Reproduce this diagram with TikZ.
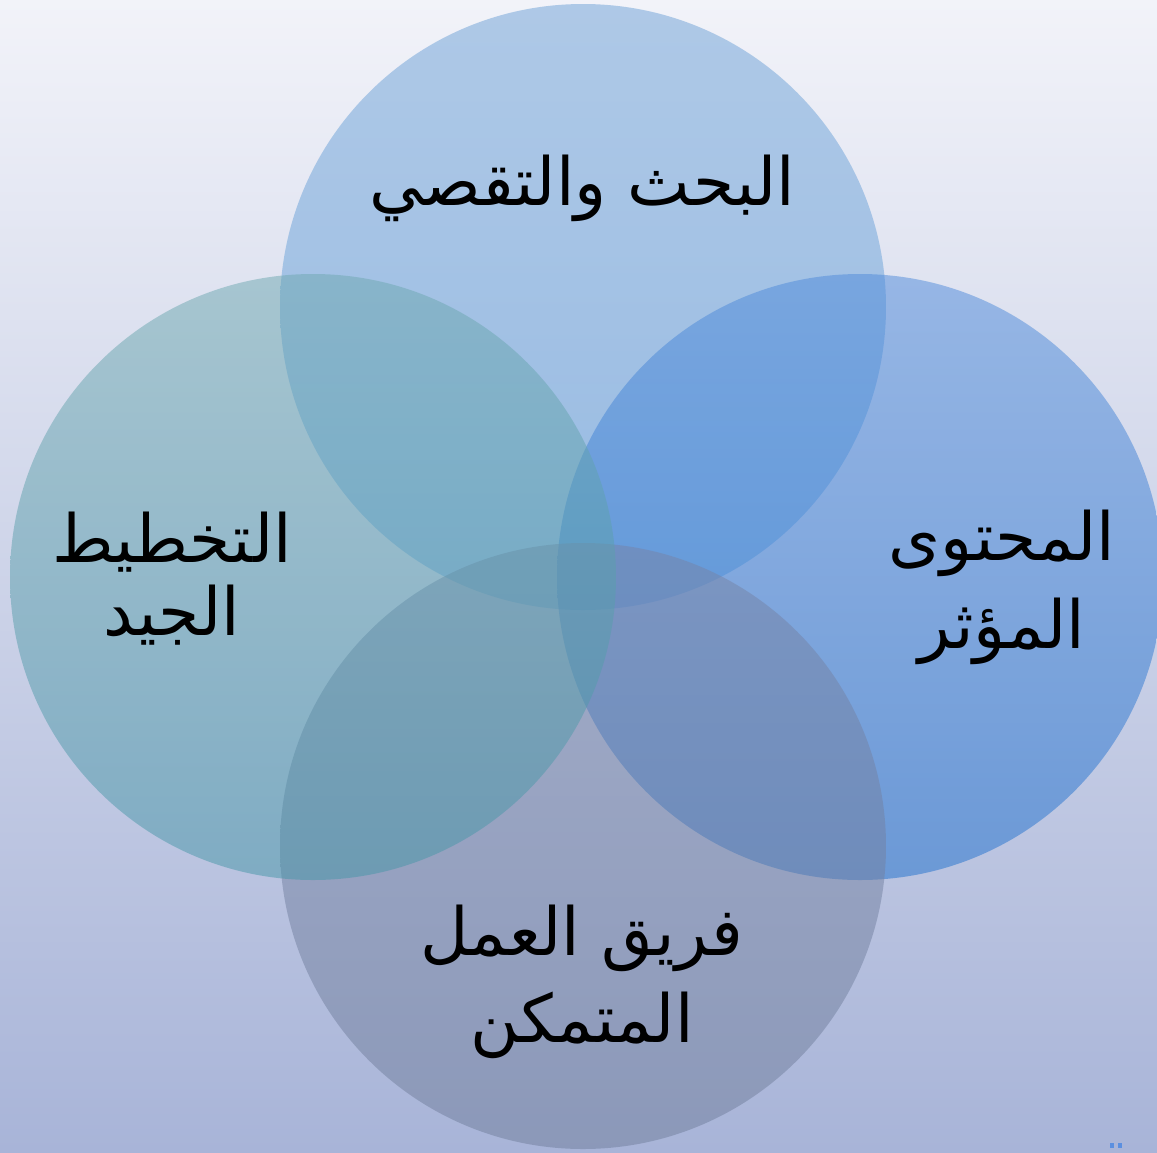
\documentclass[tikz,border=0pt]{standalone}
\usepackage{fontspec}
\TeXXeTstate=1
\newfontfamily\arabicfont[Script=Arabic]{DejaVu Sans}
\definecolor{bgtop}{HTML}{F2F3F9}
\definecolor{bgbot}{HTML}{A8B4D8}
\definecolor{ctop}{RGB}{108,160,214}
\definecolor{ctopB}{RGB}{100,164,222}
\definecolor{cleft}{RGB}{110,168,176}
\definecolor{cleftB}{RGB}{70,150,168}
\definecolor{cright}{RGB}{78,138,218}
\definecolor{crightB}{RGB}{30,112,206}
\definecolor{cbot}{RGB}{118,132,168}
\definecolor{cbotB}{RGB}{112,126,155}
\definecolor{dotblue}{HTML}{5B8FE0}
\begin{document}
\begin{tikzpicture}[x=1pt,y=-1pt,
  venn/.style={circle,minimum size=606pt,inner sep=0pt,draw=none,fill opacity=0.5},
  lbl/.style={anchor=base,inner sep=0pt,font=\arabicfont\fontsize{66.5}{72}\selectfont,text=black}]
\useasboundingbox (0,0) rectangle (1157,1152);
\shade[top color=bgtop,bottom color=bgbot] (0,0) rectangle (1157,1152);
\node[venn,top color=ctop,bottom color=ctopB] (ctop) at (583,307) {};
\node[venn,top color=cright,bottom color=crightB] (cright) at (860,577) {};
\node[venn,top color=cbot,bottom color=cbotB] (cbot) at (583,846) {};
\node[venn,top color=cleft,bottom color=cleftB] (cleft) at (313,577) {};
\node[lbl] (ttop) at (582,205) {\beginR البحث والتقصي\endR};
\node[lbl] (tleftA) at (172,562) {\beginR التخطيط\endR};
\node[lbl] (tleftB) at (172,635) {\beginR الجيد\endR};
\node[lbl] (trightA) at (1002,560) {\beginR المحتوى\endR};
\node[lbl] (trightB) at (1002,648) {\beginR المؤثر\endR};
\node[lbl] (tbotA) at (582,955) {\beginR فريق العمل\endR};
\node[lbl] (tbotB) at (582,1042) {\beginR المتمكن\endR};
\fill[dotblue] (1110,1143) rectangle (1114,1148);
\fill[dotblue] (1118,1143) rectangle (1122,1148);
\end{tikzpicture}
\end{document}
